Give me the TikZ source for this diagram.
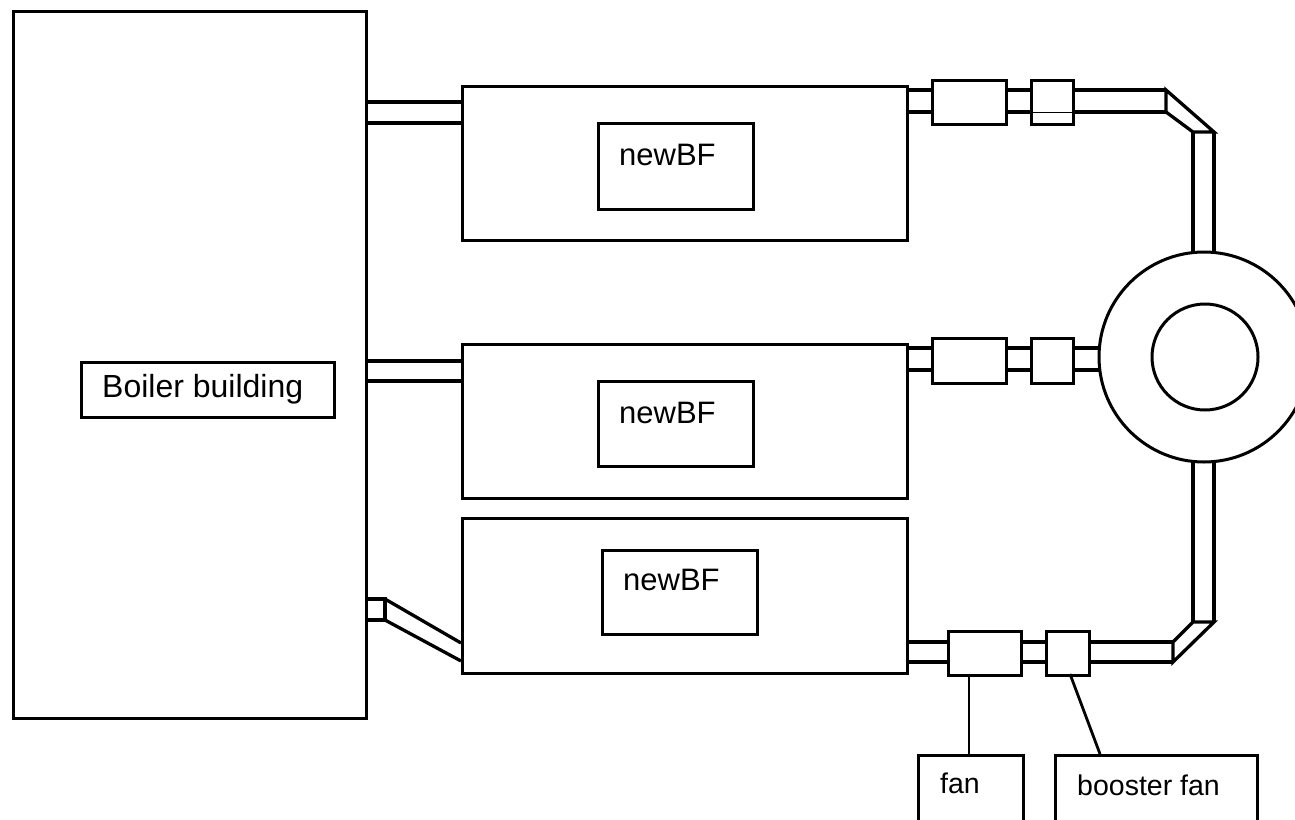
\documentclass[tikz,border=0pt]{standalone}
\usepackage{fontspec}
\setmainfont{Liberation Sans}
\begin{document}
\begin{tikzpicture}[x=1pt,y=-1pt,
  box/.style={draw, line width=3.3pt, inner sep=0pt, anchor=north west},
  pipe/.style={draw, line width=3.3pt, line join=miter},
  ring/.style={draw, line width=3pt},
  lbl/.style={inner sep=0pt, anchor=base west, font=\fontsize{31}{36}\selectfont},
  slbl/.style={inner sep=0pt, anchor=base west, font=\fontsize{28.5}{34}\selectfont},
  lead/.style={draw, line width=2.8pt}]
\clip (0,0) rectangle (1295,819);
\fill[white] (0,0) rectangle (1295,819);
% boiler building
\node[box, minimum width=353pt, minimum height=707pt] (boiler) at (12,10) {};
\node[box, minimum width=253pt, minimum height=55pt] (boilerlbl) at (80,361) {};
\node[lbl, font=\fontsize{32}{38}\selectfont] (boilertxt) at (102,397) {Boiler building};
% bag filters
\node[box, minimum width=445pt, minimum height=154pt] (bf1) at (461,85) {};
\node[box, minimum width=155pt, minimum height=86pt] (bf1in) at (597,122) {};
\node[lbl] (bf1txt) at (619,165) {newBF};
\node[box, minimum width=445pt, minimum height=154pt] (bf2) at (461,343) {};
\node[box, minimum width=155pt, minimum height=85pt] (bf2in) at (597,380) {};
\node[lbl] (bf2txt) at (619,423) {newBF};
\node[box, minimum width=445pt, minimum height=155pt] (bf3) at (461,517) {};
\node[box, minimum width=155pt, minimum height=84pt] (bf3in) at (601,549) {};
\node[lbl] (bf3txt) at (623,590) {newBF};
% pipes from boiler
\draw[pipe] (365,102) -- (461,102) (365,123) -- (461,123);
\draw[pipe] (365,361) -- (461,361) (365,381) -- (461,381);
\draw[pipe] (365,599) -- (385,599) -- (385,620) -- (365,620);
\draw[pipe] (385,599) -- (461,643);
\draw[pipe] (385,620) -- (461,661);
% chimney
\node[ring, circle, minimum size=210pt, inner sep=0pt] (chimney) at (1204,357) {};
\node[ring, circle, minimum size=106pt, inner sep=0pt] (flue) at (1205,357) {};
% top chain
\draw[pipe] (906,90) -- (931,90) (906,112) -- (931,112);
\node[box, minimum width=74pt, minimum height=44pt] (t1) at (931,79) {};
\draw[pipe] (1005,90) -- (1030,90) (1005,112) -- (1030,112);
\node[box, minimum width=42pt, minimum height=44pt] (t2) at (1030,79) {};
\draw[line width=1pt] (1030,112) -- (1072,112);
\draw[pipe] (1072,90) -- (1166,90) (1072,112) -- (1166,112);
\draw[pipe] (1166,112) -- (1166,90) -- (1214,132) -- (1193,132) -- (1166,112) -- cycle;
\draw[pipe] (1193,132) -- (1193,252.5) (1214,132) -- (1214,252.5);
% middle chain
\draw[pipe] (906,348) -- (931,348) (906,370) -- (931,370);
\node[box, minimum width=74pt, minimum height=45pt] (m1) at (931,337) {};
\draw[pipe] (1005,348) -- (1030,348) (1005,370) -- (1030,370);
\node[box, minimum width=42pt, minimum height=45pt] (m2) at (1030,337) {};
\draw[pipe] (1072,348) -- (1099.4,348) (1072,370) -- (1099.4,370);
% bottom chain
\draw[pipe] (906,642) -- (947,642) (906,662) -- (947,662);
\node[box, minimum width=73pt, minimum height=44pt] (b1) at (947,630) {};
\draw[pipe] (1020,642) -- (1045,642) (1020,662) -- (1045,662);
\node[box, minimum width=43pt, minimum height=44pt] (b2) at (1045,630) {};
\draw[pipe] (1088,642) -- (1173,642) (1088,662) -- (1173,662);
\draw[pipe] (1173,662) -- (1173,642) -- (1193,622) -- (1214,622) -- (1173,662) -- cycle;
\draw[pipe] (1193,622) -- (1193,461.5) (1214,622) -- (1214,461.5);
% fan labels
\node[box, minimum width=105pt, minimum height=90pt] (fan) at (917,754) {};
\node[slbl] (fantxt) at (940,793) {fan};
\node[box, minimum width=202pt, minimum height=90pt] (booster) at (1054,754) {};
\node[slbl] (boostertxt) at (1077,795) {booster fan};
\coordinate (fanlead) at (969,754);
\coordinate (boostlead) at (1100,754);
\draw[lead] (b1.south west -| fanlead) -- (fanlead);
\draw[lead] (1070,674) -- (boostlead);
\end{tikzpicture}
\end{document}
